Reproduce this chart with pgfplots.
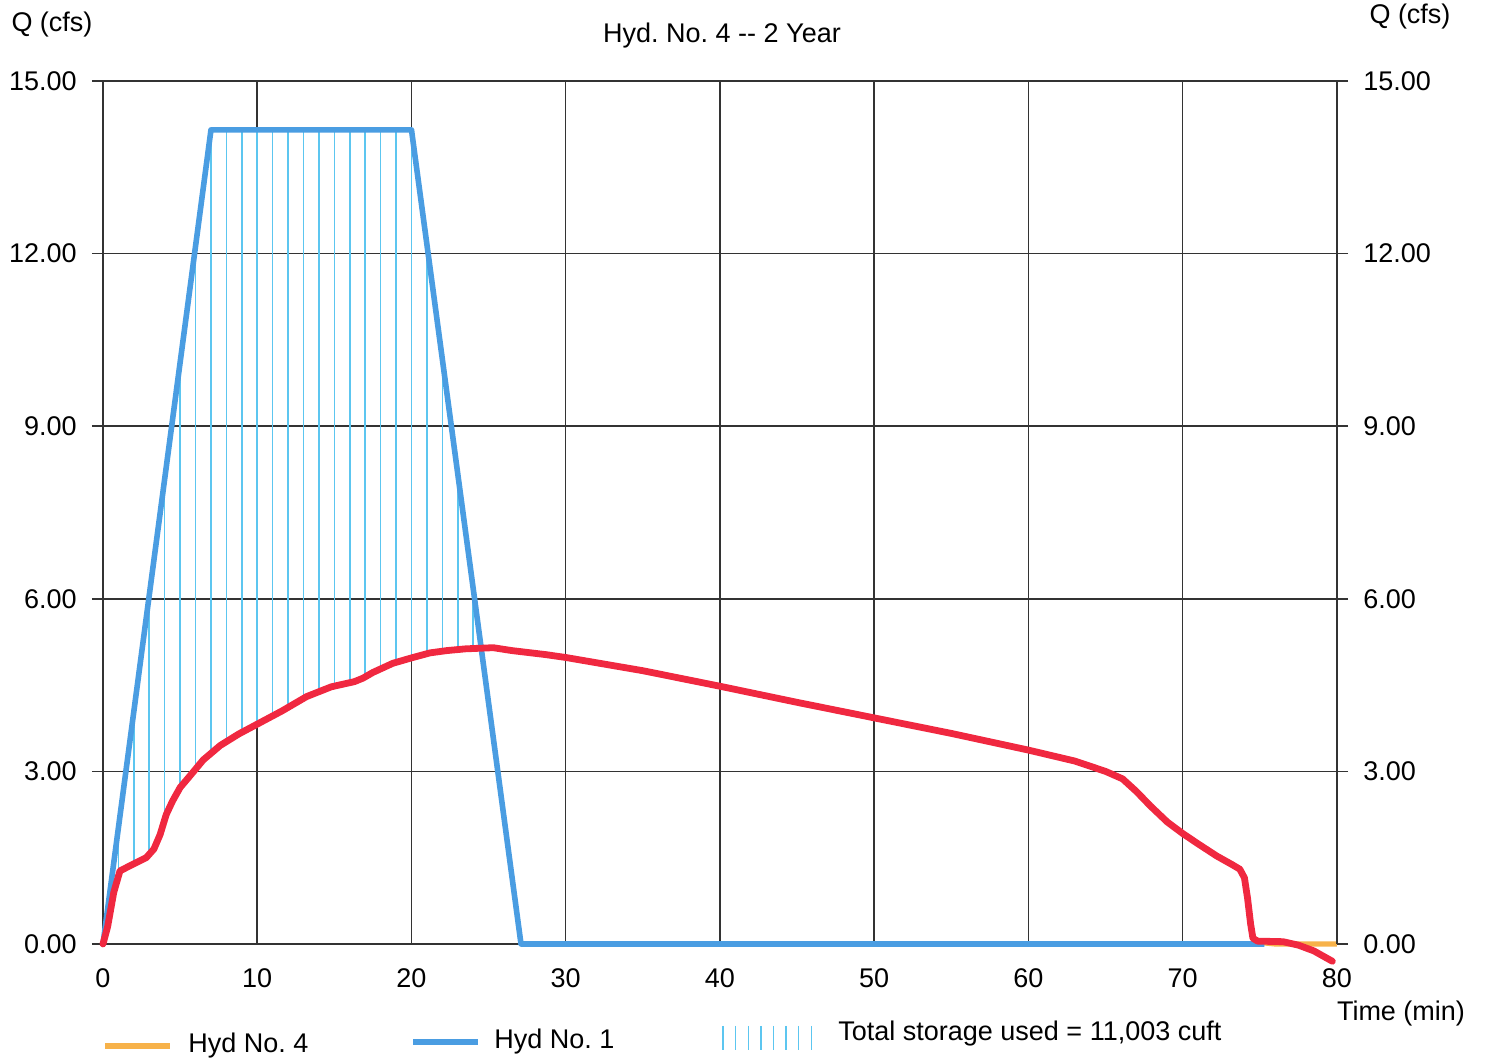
\documentclass[border=0pt]{standalone}
\usepackage{fontspec}
\setmainfont{Liberation Sans}
\usepackage{pgfplots}
\pgfplotsset{compat=1.18}
\definecolor{hydOne}{HTML}{4A9DE2}
\definecolor{hydFour}{HTML}{F7B24A}
\definecolor{penRed}{HTML}{F02840}
\definecolor{hatchBlue}{HTML}{5CC6F0}
\definecolor{gridc}{HTML}{333333}

\begin{document}
\frenchspacing
\fontsize{13.5}{16}\selectfont
\begin{tikzpicture}
\path[use as bounding box] (-51.5pt,-58pt) rectangle (691pt,472pt);
\begin{axis}[
    scale only axis,
    width=617pt, height=431.5pt,
    xmin=0, xmax=80, ymin=0, ymax=15,
    xtick={0,10,...,80},
    ytick={0,3,...,15},
    grid=major,
    major grid style={gridc, line width=0.75pt},
    axis line style={gridc, line width=0.75pt},
    tick align=outside,
    major tick length=5.5pt,
    tick style={gridc, line width=0.75pt},
    xtick style={draw=none},
    xtick pos=bottom, ytick pos=left,
    /pgf/number format/assume math mode=true,
    ticklabel style={font=\fontsize{13.5}{16}\selectfont},
    y tick label style={xshift=-3pt, /pgf/number format/.cd, fixed, fixed zerofill, precision=2},
    x tick label style={yshift=-2pt},
    unbounded coords=jump,
    clip=false,
]
% storage hatching between inflow and outflow
\addplot[hatchBlue, line width=0.8pt] coordinates {
(1,1.27)(1,2.02)(1,nan)
(2,1.42)(2,4.04)(2,nan)
(3,1.56)(3,6.06)(3,nan)
(4,2.15)(4,8.09)(4,nan)
(5,2.72)(5,10.11)(5,nan)
(6,3.02)(6,12.13)(6,nan)
(7,3.32)(7,14.15)(7,nan)
(8,3.52)(8,14.15)(8,nan)
(9,3.68)(9,14.15)(9,nan)
(10,3.83)(10,14.15)(10,nan)
(11,3.97)(11,14.15)(11,nan)
(12,4.12)(12,14.15)(12,nan)
(13,4.27)(13,14.15)(13,nan)
(14,4.39)(14,14.15)(14,nan)
(15,4.49)(15,14.15)(15,nan)
(16,4.55)(16,14.15)(16,nan)
(17,4.64)(17,14.15)(17,nan)
(18,4.78)(18,14.15)(18,nan)
(19,4.9)(19,14.15)(19,nan)
(20,4.98)(20,14.15)(20,nan)
(21,5.05)(21,12.13)(21,nan)
(22,5.09)(22,10.11)(22,nan)
(23,5.12)(23,8.09)(23,nan)
(24,5.14)(24,6.06)
};
% Hyd No. 4 (outflow)
\addplot[hydFour, line width=2.6pt, line join=round] coordinates {
(0,0)(0.3,0.3)(0.7,0.9)(1.1,1.27)(1.75,1.36)(2.8,1.5)(3.3,1.65)(3.7,1.9)
(4.1,2.25)(4.5,2.48)(5.0,2.72)(5.6,2.91)(6.5,3.2)(7.6,3.45)(8.8,3.65)
(10.2,3.85)(11.6,4.05)(13.2,4.3)(14.8,4.47)(16.3,4.56)(16.85,4.62)(17.5,4.72)
(18.8,4.88)(20.1,4.98)(21.2,5.06)(22.3,5.1)(23.5,5.13)(25.3,5.15)(26.5,5.1)
(28.7,5.03)(30,4.98)(35,4.75)(40,4.48)(45,4.2)(50,3.93)(55,3.66)(60,3.37)
(63,3.18)(65,3.0)(66.1,2.87)(67,2.65)(67.9,2.4)(69,2.12)(70,1.92)(71,1.74)
(72.2,1.53)(73.2,1.38)(73.7,1.3)(74.0,1.15)(74.2,0.8)(74.4,0.35)(74.55,0.1)
(74.85,0.03)(76,0)(80,0)
};
% Hyd No. 1 (inflow)
\addplot[hydOne, line width=2.8pt, line join=round] coordinates {
(0,0)(7,14.15)(20,14.15)(27.1,0)(75.3,0)
};
% hand-drawn red trace over Hyd No. 4
\addplot[penRed, line width=3.4pt, line join=round, line cap=round] coordinates {
(0,0)(0.3,0.3)(0.7,0.9)(1.1,1.27)(1.75,1.36)(2.8,1.5)(3.3,1.65)(3.7,1.9)
(4.1,2.25)(4.5,2.48)(5.0,2.72)(5.6,2.91)(6.5,3.2)(7.6,3.45)(8.8,3.65)
(10.2,3.85)(11.6,4.05)(13.2,4.3)(14.8,4.47)(16.3,4.56)(16.85,4.62)(17.5,4.72)
(18.8,4.88)(20.1,4.98)(21.2,5.06)(22.3,5.1)(23.5,5.13)(25.3,5.15)(26.5,5.1)
(28.7,5.03)(30,4.98)(35,4.75)(40,4.48)(45,4.2)(50,3.93)(55,3.66)(60,3.37)
(63,3.18)(65,3.0)(66.1,2.87)(67,2.65)(67.9,2.4)(69,2.12)(70,1.92)(71,1.74)
(72.2,1.53)(73.2,1.38)(73.7,1.3)(74.0,1.15)(74.2,0.8)(74.4,0.35)(74.55,0.1)
(74.85,0.05)(76.5,0.04)(77.5,-0.02)(78.5,-0.12)(79.7,-0.3)
};
\end{axis}
\begin{axis}[
    scale only axis,
    width=617pt, height=431.5pt,
    xmin=0, xmax=80, ymin=0, ymax=15,
    axis x line=none,
    axis y line*=right,
    ytick={0,3,...,15},
    tick align=outside,
    major tick length=5.5pt,
    axis line style={gridc, line width=0.75pt},
    tick style={gridc, line width=0.75pt},
    /pgf/number format/assume math mode=true,
    ticklabel style={font=\fontsize{13.5}{16}\selectfont},
    y tick label style={xshift=3pt, /pgf/number format/.cd, fixed, fixed zerofill, precision=2},
]
\end{axis}
\node at (-25.5pt,459.5pt) {Q (cfs)};
\node at (309.5pt,454pt) {Hyd. No. 4 -{}- 2 Year};
\node at (653.5pt,463.5pt) {Q (cfs)};
\node at (649pt,-35pt) {Time (min)};
% legend
\draw[hydFour, line width=2.6pt] (1pt,-51pt) -- (33.5pt,-51pt);
\node[anchor=west] at (38pt,-51pt) {Hyd No. 4};
\draw[hydOne, line width=2.8pt] (155pt,-49pt) -- (187.5pt,-49pt);
\node[anchor=west] at (191pt,-49pt) {Hyd No. 1};
\foreach \k in {0,...,7} \draw[hatchBlue, line width=0.7pt] (310pt+\k*6.3pt,-41pt) -- (310pt+\k*6.3pt,-53pt);
\node[anchor=west] at (363pt,-45pt) {Total storage used = 11,003 cuft};
\end{tikzpicture}
\end{document}
